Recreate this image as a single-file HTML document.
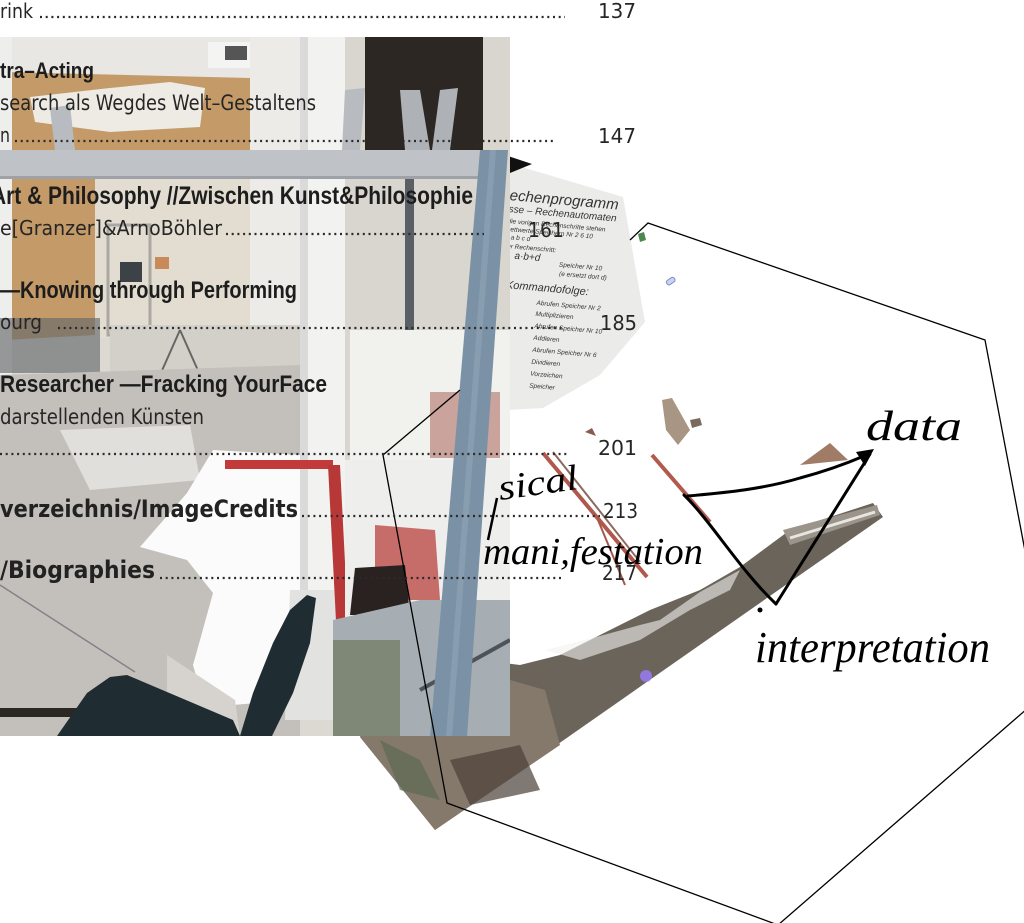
<!DOCTYPE html>
<html><head><meta charset="utf-8"><style>
html,body{margin:0;padding:0;background:#fff;}
svg{display:block}
.b{font-family:"Liberation Sans",sans-serif;font-weight:bold;fill:#1d1d1d}
.r{font-family:"DejaVu Sans","Liberation Sans",sans-serif;fill:#262626}
.n{font-family:"DejaVu Sans","Liberation Sans",sans-serif;fill:#262626;font-size:20px}
.h{font-family:"Liberation Serif",serif;font-style:italic;fill:#000}
.p{font-family:"Liberation Sans",sans-serif;font-style:italic;fill:#333}
</style></head><body>
<svg width="1024" height="923" viewBox="0 0 1024 923" xmlns="http://www.w3.org/2000/svg">
<defs>
<clipPath id="cl"><rect x="0" y="37" width="510" height="699"/></clipPath>
</defs>
<rect width="1024" height="923" fill="#fff"/>

<!-- rotated photo (behind) -->
<polygon points="360,737 435,830 883,517 873,503 790,530 740,567 700,590 650,610 600,635 560,655 520,665 400,650" fill="#6b645a"/>
<polygon points="360,737 435,830 560,745 545,690 510,680 440,700" fill="#85796c"/>
<polygon points="783,530 877,505 880,515 790,545" fill="#9a948a"/>
<line x1="790" y1="538" x2="875" y2="512" stroke="#e8e6e0" stroke-width="3"/>
<polygon points="545,650 600,636 640,625 660,620 700,592 740,570 730,590 690,610 640,640 580,660" fill="#f2f2f0" opacity="0.6"/>
<circle cx="646" cy="676" r="6" fill="#9b7cff" opacity="0.8"/>
<polygon points="380,740 420,760 440,800 400,790" fill="#5c6a52" opacity="0.7"/>
<polygon points="450,760 520,745 540,790 470,805" fill="#4a3f37" opacity="0.7"/>
<!-- brown fragment near data -->
<polygon points="800,465 830,443 848,460" fill="#a07c66"/>
<!-- scattered fragments -->
<polygon points="662,400 672,398 690,430 678,445 666,430" fill="#a89584"/>
<line x1="543" y1="453" x2="647" y2="577" stroke="#b0584c" stroke-width="4"/>
<line x1="553" y1="452" x2="640" y2="562" stroke="#8c6a60" stroke-width="2"/>
<line x1="652" y1="455" x2="710" y2="522" stroke="#b25a4c" stroke-width="4"/>
<line x1="598" y1="520" x2="625" y2="585" stroke="#a8564a" stroke-width="2"/>
<polygon points="690,420 700,418 702,425 692,428" fill="#7b6a60"/>
<polygon points="585,432 592,428 596,436" fill="#8a5a50"/>

<!-- paper -->
<polygon points="508,158 525,168 623,197 645,322 600,375 543,408 508,410" fill="#ebebea"/>
<polygon points="508,156 532,164 510,173" fill="#111"/>
<g transform="rotate(5 510 170)">
<text class="p" x="512" y="200" font-size="15">echenprogramm</text>
<text class="p" x="512" y="212" font-size="10">sse – Rechenautomaten</text>
<text class="p" x="512" y="223" font-size="6.5">die vorigen Rechenschritte stehen</text>
<text class="p" x="512" y="231" font-size="6.5">hettwerte   Speichern Nr 2  6  10</text>
<text class="p" x="512" y="239" font-size="6.5">il a        b    c   d</text>
<text class="p" x="512" y="248" font-size="6.5">ter Rechenschritt:</text>
<text class="p" x="522" y="258" font-size="10">a·b+d</text>
<text class="p" x="567" y="262" font-size="6.5">Speicher Nr 10</text>
<text class="p" x="568" y="271" font-size="6.5">(e ersetzt dort d)</text>
<text class="p" x="516" y="288" font-size="11">Kommandofolge:</text>
<text class="p" x="548" y="302" font-size="6.5">Abrufen Speicher Nr 2</text>
<text class="p" x="548" y="313" font-size="6.5">Multiplizieren</text>
<text class="p" x="548" y="325" font-size="6.5">Abrufen Speicher Nr 10</text>
<text class="p" x="548" y="337" font-size="6.5">Addieren</text>
<text class="p" x="548" y="349" font-size="6.5">Abrufen Speicher Nr 6</text>
<text class="p" x="548" y="361" font-size="6.5">Dividieren</text>
<text class="p" x="548" y="373" font-size="6.5">Vorzeichen</text>
<text class="p" x="548" y="385" font-size="6.5">Speicher</text>
</g>
<polygon points="638,234 644,232 646,240 640,242" fill="#4a8a50"/>
<rect x="666" y="279" width="9" height="5" rx="2" fill="#c8d4f0" stroke="#7a8ac0" stroke-width="1" transform="rotate(-35 670 281)"/>

<!-- left photo -->
<g clip-path="url(#cl)">
<rect x="0" y="37" width="510" height="699" fill="#dcd9d2"/>
<rect x="0" y="37" width="300" height="45" fill="#e8e7e3"/>
<polygon points="5,72 250,78 250,150 95,160 95,335 5,340" fill="#c49a68"/>
<polygon points="30,97 110,88 170,82 205,88 200,127 110,132 35,122" fill="#eeebe4"/>
<rect x="208" y="42" width="44" height="26" fill="#f4f4f2"/>
<rect x="225" y="46" width="22" height="14" fill="#555"/>
<rect x="0" y="37" width="12" height="420" fill="#eeeeec"/>
<rect x="95" y="178" width="205" height="160" fill="#e2ddd0"/>
<rect x="108" y="225" width="42" height="110" fill="none" stroke="#a9a8a3" stroke-width="3"/>
<rect x="120" y="262" width="22" height="20" fill="#3c4246"/>
<rect x="155" y="257" width="14" height="12" fill="#c98a5a"/>
<rect x="250" y="37" width="50" height="300" fill="#ecebe7"/>
<!-- pillar -->
<rect x="300" y="37" width="45" height="560" fill="#f2f2f0"/>
<rect x="300" y="37" width="8" height="560" fill="#dadada"/>
<!-- right area -->
<rect x="345" y="37" width="165" height="420" fill="#d8d6ce"/>
<rect x="365" y="37" width="118" height="126" fill="#2c2723"/>
<rect x="405" y="163" width="9" height="170" fill="#5a5f66"/>
<rect x="350" y="330" width="160" height="130" fill="#f1f1ee"/>
<rect x="430" y="392" width="70" height="66" fill="#c9a39c"/>
<!-- horizontal bar -->
<rect x="0" y="150" width="500" height="28" fill="#bfc2c7"/>
<rect x="0" y="176" width="500" height="3" fill="#9ea2a8"/>
<polygon points="50,108 70,105 75,150 55,150" fill="#b8bbc0"/>
<polygon points="345,90 365,88 360,150 342,150" fill="#b8bbc0"/>
<polygon points="400,90 420,90 430,150 405,150" fill="#aeb2b7"/>
<polygon points="440,90 458,88 450,150 432,150" fill="#aeb2b7"/>
<!-- chairs row -->
<rect x="110" y="325" width="190" height="50" fill="#d3d0c9"/>
<rect x="0" y="318" width="100" height="55" fill="#66696d" opacity="0.65"/>
<line x1="180" y1="330" x2="160" y2="375" stroke="#666" stroke-width="2"/>
<line x1="180" y1="330" x2="200" y2="375" stroke="#666" stroke-width="2"/>
<!-- floor -->
<polygon points="0,375 300,365 300,736 0,736" fill="#c3c0bb"/>
<polygon points="60,430 190,425 200,480 90,490" fill="#e0dfdc"/>
<line x1="0" y1="585" x2="135" y2="672" stroke="#80838a" stroke-width="1.5"/>
<rect x="0" y="708" width="77" height="9" fill="#2c2723"/>
<!-- white blob -->
<polygon points="213,450 187,493 140,547 187,560 213,593 200,640 193,665 200,690 233,705 290,700 300,593 300,455" fill="#fbfbfb"/>
<polygon points="167,655 235,700 240,736 167,736" fill="#d6d3ce"/>
<!-- pillar base -->
<polygon points="290,590 335,590 340,720 285,720" fill="#e2e2e0"/>
<!-- red strip -->
<rect x="225" y="460" width="108" height="9" fill="#c23a3a"/>
<polygon points="328,465 340,465 350,660 338,660" fill="#b83838"/>
<!-- right lower area -->
<rect x="345" y="460" width="165" height="280" fill="#eeeeec"/>
<polygon points="375,525 435,530 440,600 375,600" fill="#c66d6a"/>
<polygon points="355,568 405,565 410,615 350,615" fill="#2a2220"/>
<polygon points="333,620 420,600 510,600 510,736 333,736" fill="#a6aeb3"/>
<polygon points="333,640 400,640 400,736 333,736" fill="#7f8877"/>
<line x1="420" y1="690" x2="510" y2="640" stroke="#4d5358" stroke-width="4"/>
<!-- chair -->
<polygon points="57,736 87,693 110,677 127,675 233,720 240,736" fill="#1f2c32"/>
<polygon points="240,736 253,693 273,643 290,610 307,595 316,598 310,643 293,693 272,736" fill="#1f2c32"/>
<!-- pole -->
<polygon points="480,150 508,150 467,737 430,737" fill="#7b91a5"/>
<polygon points="490,150 496,150 452,737 446,737" fill="#889db0"/>
</g>

<!-- hexagon -->
<g stroke="#000" stroke-width="1.3" fill="none">
<polyline points="383,455 460,390"/>
<polyline points="630,240 648,223 985,340 1051,688 778,925"/>
<polyline points="383,455 447,803 778,925"/>
</g>

<!-- TOC text -->
<g>
<text class="n" x="0" y="18" font-size="21" textLength="33" lengthAdjust="spacingAndGlyphs">rink</text>
<text class="n" x="598" y="18" textLength="38" lengthAdjust="spacingAndGlyphs">137</text>
<text class="b" x="0" y="78" font-size="22" textLength="94" lengthAdjust="spacingAndGlyphs">tra–Acting</text>
<text class="r" x="0" y="110" font-size="21" textLength="316" lengthAdjust="spacingAndGlyphs">search als Wegdes Welt–Gestaltens</text>
<text class="n" x="0" y="142" textLength="10" lengthAdjust="spacingAndGlyphs">n</text>
<text class="n" x="598" y="143" textLength="38" lengthAdjust="spacingAndGlyphs">147</text>
<text class="b" x="-9" y="204" font-size="25" textLength="482" lengthAdjust="spacingAndGlyphs">Art &amp; Philosophy  //Zwischen Kunst&amp;Philosophie</text>
<text class="r" x="0" y="235" font-size="20" textLength="222" lengthAdjust="spacingAndGlyphs">e[Granzer]&amp;ArnoBöhler</text>
<text class="n" x="528" y="237" textLength="36" lengthAdjust="spacingAndGlyphs">161</text>
<text class="b" x="0" y="298" font-size="24" textLength="297" lengthAdjust="spacingAndGlyphs">—Knowing through Performing</text>
<text class="r" x="0" y="329" font-size="20" textLength="42" lengthAdjust="spacingAndGlyphs">ourg</text>
<text class="n" x="600" y="330" textLength="37" lengthAdjust="spacingAndGlyphs">185</text>
<text class="b" x="0" y="392" font-size="24" textLength="327" lengthAdjust="spacingAndGlyphs">Researcher  —Fracking YourFace</text>
<text class="r" x="0" y="424" font-size="21" textLength="204" lengthAdjust="spacingAndGlyphs">darstellenden Künsten</text>
<text class="n" x="598" y="455" textLength="39" lengthAdjust="spacingAndGlyphs">201</text>
<text class="r" x="0" y="517" font-size="24" font-weight="bold" textLength="298" lengthAdjust="spacingAndGlyphs" style="fill:#222">verzeichnis/ImageCredits</text>
<text class="n" x="603" y="518" textLength="35" lengthAdjust="spacingAndGlyphs">213</text>
<text class="r" x="0" y="578" font-size="24" font-weight="bold" textLength="155" lengthAdjust="spacingAndGlyphs" style="fill:#222">/Biographies</text>
<text class="n" x="602" y="580" textLength="35" lengthAdjust="spacingAndGlyphs">217</text>
</g>
<g stroke="#2a2a2a" stroke-width="2.2" stroke-dasharray="2 3.7">
<line x1="40" y1="17" x2="565" y2="17"/>
<line x1="15" y1="141" x2="555" y2="141"/>
<line x1="226" y1="234" x2="484" y2="234"/>
<line x1="58" y1="328" x2="565" y2="328"/>
<line x1="0" y1="454" x2="567" y2="454"/>
<line x1="302" y1="516" x2="600" y2="516"/>
<line x1="160" y1="578" x2="564" y2="578"/>
</g>

<!-- handwriting -->
<text class="h" x="500" y="500" font-size="36" textLength="80" lengthAdjust="spacingAndGlyphs" transform="rotate(-8 500 500)">sical</text>
<path d="M497,498 L488,540" stroke="#000" stroke-width="2.5" fill="none"/>
<text class="h" x="483" y="564" font-size="38" textLength="220" lengthAdjust="spacingAndGlyphs">mani,festation</text>
<text class="h" x="866" y="440" font-size="42" textLength="96" lengthAdjust="spacingAndGlyphs">data</text>
<text class="h" x="755" y="662" font-size="44" textLength="235" lengthAdjust="spacingAndGlyphs">interpretation</text>

<!-- triangle -->
<g stroke="#000" stroke-width="3" fill="none" stroke-linecap="round">
<path d="M688,496 C720,493 760,490 800,478 C830,470 850,462 864,456"/>
<path d="M870,454 L776,604"/>
<path d="M684,495 C710,520 740,570 776,604"/>
</g>
<polygon points="874,449 856,452 865,466" fill="#000"/>
<circle cx="760" cy="610" r="2.5" fill="#000"/>
</svg>
</body></html>
